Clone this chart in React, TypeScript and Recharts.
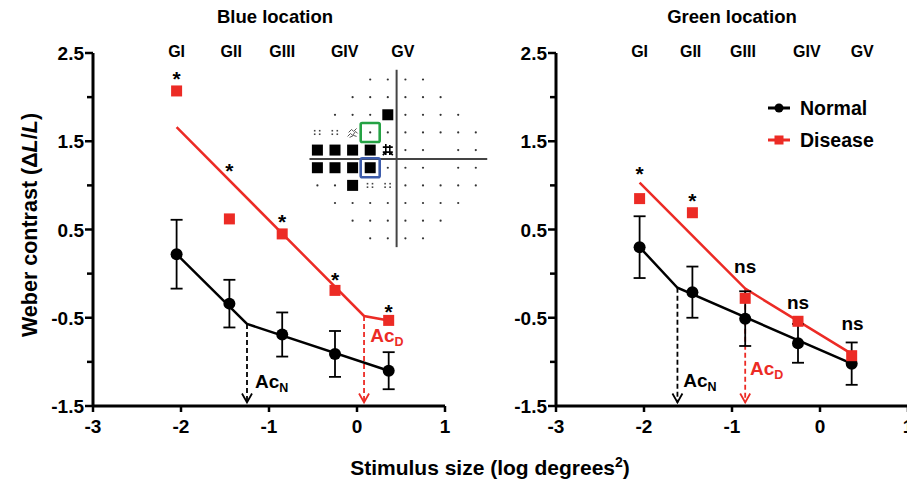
import React from 'react';
import {
  ComposedChart,
  Line,
  Scatter,
  XAxis,
  YAxis,
  ErrorBar,
  ReferenceLine,
  ReferenceDot,
} from 'recharts';

const FONT = "'Liberation Sans', Arial, Helvetica, sans-serif";
const RED = '#ec2b25';
const GREEN_BOX = '#25a244';
const BLUE_BOX = '#3d5cab';

// ---- axes / ticks ----
const X_TICKS = [-3, -2, -1, 0, 1];
const Y_TICKS = [-1.5, -1, -0.5, 0, 0.5, 1, 1.5, 2, 2.5];
const Y_LABELED = [-1.5, -0.5, 0.5, 1.5, 2.5];
const GROUP_LABELS = ['GI', 'GII', 'GIII', 'GIV', 'GV'];
const BLUE_GROUP_LABEL_X = [-2.05, -1.43, -0.85, -0.14, 0.52];
const GREEN_GROUP_LABEL_X = [-2.05, -1.47, -0.875, -0.15, 0.48];

// ---- stimulus sizes (log deg^2) ----
const STIM_X = [-2.05, -1.45, -0.85, -0.25, 0.36];

// ---- Blue location ----
const BLUE_NORMAL = [0.22, -0.34, -0.69, -0.91, -1.1];
const BLUE_NORMAL_ERR = [0.39, 0.27, 0.25, 0.26, 0.21];
const BLUE_DISEASE = [2.07, 0.62, 0.45, -0.19, -0.53];
const BLUE_NORMAL_FIT_X = [-2.05, -1.25, 0.36];
const BLUE_NORMAL_FIT_Y = [0.22, -0.57, -1.1];
const BLUE_DISEASE_FIT_X = [-2.05, 0.08, 0.36];
const BLUE_DISEASE_FIT_Y = [1.66, -0.48, -0.53];
const BLUE_SIG = ['*', '*', '*', '*', '*'];
const BLUE_SIG_X = [-2.05, -1.45, -0.85, -0.25, 0.36];
const BLUE_SIG_Y = [2.25, 1.21, 0.63, -0.03, -0.39];
const BLUE_AC_X = [-1.25, 0.08];
const BLUE_AC_Y = [-0.57, -0.48];
const BLUE_AC_LABEL_X = [-1.16, 0.15];
const BLUE_AC_LABEL_Y = [-1.295, -0.775];

// ---- Green location ----
const GREEN_NORMAL = [0.3, -0.21, -0.51, -0.79, -1.02];
const GREEN_NORMAL_ERR = [0.35, 0.29, 0.31, 0.22, 0.24];
const GREEN_DISEASE = [0.85, 0.69, -0.28, -0.54, -0.93];
const GREEN_NORMAL_FIT_X = [-2.05, -1.62, 0.36];
const GREEN_NORMAL_FIT_Y = [0.3, -0.16, -1.02];
const GREEN_DISEASE_FIT_X = [-2.05, -0.85, 0.36];
const GREEN_DISEASE_FIT_Y = [1.03, -0.17, -0.91];
const GREEN_SIG = ['*', '*', 'ns', 'ns', 'ns'];
const GREEN_SIG_X = [-2.05, -1.45, -0.85, -0.25, 0.37];
const GREEN_SIG_Y = [1.175, 0.87, 0.08, -0.33, -0.57];
const GREEN_AC_X = [-1.62, -0.85];
const GREEN_AC_Y = [-0.16, -0.17];
const GREEN_AC_LABEL_X = [-1.555, -0.795];
const GREEN_AC_LABEL_Y = [-1.285, -1.15];

const AC_SUBS = ['N', 'D'];
const AC_COLORS = ['#000', RED];
const ARROW_TIP_Y = -1.46;

// ---- legend ----
const LEGEND_NAMES = ['Normal', 'Disease'];
const LEGEND_COLORS = ['#000', RED];

// ---- visual field inset (blue panel) ----
const INSET_ROWS = [
  '   ....   ',
  '  ......  ',
  ' ...#.... ',
  '::~.......',
  '####*.. ..',
  '####... ..',
  '..#::.....',
  ' ........ ',
  '  ......  ',
  '   ....   ',
];
const INSET_BOXES = [
  { r: 3, c: 3, color: GREEN_BOX },
  { r: 5, c: 3, color: BLUE_BOX },
];
const INSET_X0 = -0.45;
const INSET_Y0 = 2.2;
const INSET_STEP = 0.2;

const zipXY = (xs: number[], ys: number[]) => xs.map((x, i) => ({ x, y: ys[i] }));

function YTick(props: any) {
  const { x, y, payload } = props;
  const v = payload.value as number;
  const major = Y_LABELED.includes(v);
  return (
    <g>
      <line x1={x - (major ? 8 : 6)} x2={x} y1={y} y2={y} stroke="#000" strokeWidth={2.5} />
      {major && (
        <text x={x - 9} y={y + 7} textAnchor="end" fontSize={19} fontWeight={700} fontFamily={FONT} fill="#000">
          {v.toFixed(1)}
        </text>
      )}
    </g>
  );
}

function XTick(props: any) {
  const { x, y, payload } = props;
  return (
    <g>
      <line x1={x} x2={x} y1={y} y2={y + 6} stroke="#000" strokeWidth={2.5} />
      <text x={x} y={y + 27} textAnchor="middle" fontSize={19} fontWeight={700} fontFamily={FONT} fill="#000">
        {String(payload.value)}
      </text>
    </g>
  );
}

function makeGroupTick(positions: number[]) {
  return (props: any) => {
    const { x, y, payload } = props;
    const idx = positions.indexOf(payload.value);
    return (
      <text x={x} y={y + 4} textAnchor="middle" fontSize={16} fontWeight={700} fontFamily={FONT} fill="#000">
        {GROUP_LABELS[idx]}
      </text>
    );
  };
}

const circleShape = (p: any) => <circle cx={p.cx} cy={p.cy} r={6} fill="#000" />;
const squareShape = (p: any) => <rect x={p.cx - 5.5} y={p.cy - 5.5} width={11} height={11} fill={RED} />;

function InsetCell(props: any) {
  const { cx, cy, code } = props;
  if (code === '#') return <rect x={cx - 5.5} y={cy - 5.5} width={11} height={11} fill="#000" />;
  if (code === '.') return <circle cx={cx} cy={cy} r={1.1} fill="#333" />;
  if (code === ':')
    return (
      <g fill="#444">
        <rect x={cx - 3.5} y={cy - 2.5} width={1.6} height={1.6} />
        <rect x={cx - 3.5} y={cy + 1} width={1.6} height={1.6} />
        <rect x={cx + 1.5} y={cy - 2.5} width={1.6} height={1.6} />
        <rect x={cx + 1.5} y={cy + 1} width={1.6} height={1.6} />
      </g>
    );
  if (code === '~')
    return (
      <path
        d={`M${cx - 5},${cy + 4} l3,-3 l2,2 l3,-4 l2,2 M${cx - 4},${cy} l3,-3 l2,2 l3,-3 M${cx - 3},${cy + 5} l4,-2 l3,1`}
        stroke="#555"
        strokeWidth={1}
        fill="none"
      />
    );
  if (code === '*')
    return (
      <path
        d={`M${cx - 5},${cy - 3} l10,0 M${cx - 5},${cy + 2} l10,0 M${cx - 2},${cy - 6} l0,11 M${cx + 2},${cy - 5} l0,10 M${cx - 5},${cy + 5} l4,-4 M${cx + 5},${cy + 5} l-4,-4`}
        stroke="#000"
        strokeWidth={1.6}
        fill="none"
      />
    );
  return <g />;
}

function AcLabel(props: any) {
  const { cx, cy, sub, color } = props;
  return (
    <text x={cx} y={cy} fontSize={19} fontWeight={700} fontFamily={FONT} fill={color}>
      Ac
      <tspan dy={4} fontSize={12.5}>
        {sub}
      </tspan>
    </text>
  );
}

function SigLabel(props: any) {
  const { cx, cy, text } = props;
  const star = text === '*';
  return (
    <text x={cx} y={cy + (star ? 11 : 6)} textAnchor="middle" fontSize={star ? 21 : 19} fontWeight={700} fontFamily={FONT} fill="#000">
      {text}
    </text>
  );
}

function Chevron(props: any) {
  const { cx, cy, color } = props;
  return <path d={`M${cx - 5},${cy - 9} L${cx},${cy} L${cx + 5},${cy - 9}`} stroke={color} strokeWidth={1.8} fill="none" />;
}

interface PanelProps {
  width: number;
  margin: { top: number; right: number; bottom: number; left: number };
  groupX: number[];
  normal: number[];
  normalErr: number[];
  disease: number[];
  normalFit: { x: number; y: number }[];
  diseaseFit: { x: number; y: number }[];
  sig: string[];
  sigX: number[];
  sigY: number[];
  acX: number[];
  acY: number[];
  acLabelX: number[];
  acLabelY: number[];
  inset: boolean;
}

function Panel(p: PanelProps) {
  const normalData = STIM_X.map((x, i) => ({ x, y: p.normal[i], err: p.normalErr[i] }));
  const diseaseData = STIM_X.map((x, i) => ({ x, y: p.disease[i] }));
  const insetCells: { x: number; y: number; code: string }[] = [];
  if (p.inset) {
    INSET_ROWS.forEach((row, r) => {
      row.split('').forEach((code, c) => {
        if (code !== ' ') insetCells.push({ x: INSET_X0 + INSET_STEP * c, y: INSET_Y0 - INSET_STEP * r, code });
      });
    });
  }
  return (
    <ComposedChart width={p.width} height={483} margin={p.margin}>
      <XAxis
        xAxisId="top"
        orientation="top"
        type="number"
        dataKey="x"
        domain={[-3, 1]}
        allowDataOverflow
        ticks={p.groupX}
        interval={0}
        axisLine={false}
        tickLine={false}
        tickSize={0}
        tickMargin={0}
        height={20}
        tick={makeGroupTick(p.groupX)}
      />
      <XAxis
        type="number"
        dataKey="x"
        domain={[-3, 1]}
        allowDataOverflow
        ticks={X_TICKS}
        interval={0}
        axisLine={{ stroke: '#000', strokeWidth: 3 }}
        tickLine={false}
        tickSize={0}
        tickMargin={0}
        height={30}
        tick={XTick}
      />
      <YAxis
        type="number"
        dataKey="y"
        domain={[-1.5, 2.5]}
        allowDataOverflow
        ticks={Y_TICKS}
        interval={0}
        axisLine={{ stroke: '#000', strokeWidth: 3 }}
        tickLine={false}
        tickSize={0}
        tickMargin={0}
        width={60}
        tick={YTick}
      />

      {p.inset && (
        <ReferenceLine
          segment={[
            { x: INSET_X0 + INSET_STEP * 4.5, y: 2.31 },
            { x: INSET_X0 + INSET_STEP * 4.5, y: 0.3 },
          ]}
          stroke="#444"
          strokeWidth={2}
          ifOverflow="visible"
        />
      )}
      {p.inset && (
        <ReferenceLine
          segment={[
            { x: -0.54, y: INSET_Y0 - INSET_STEP * 4.5 },
            { x: 1.48, y: INSET_Y0 - INSET_STEP * 4.5 },
          ]}
          stroke="#444"
          strokeWidth={2}
          ifOverflow="visible"
        />
      )}
      {insetCells.map((c, i) => (
        <ReferenceDot
          key={'cell' + i}
          x={c.x}
          y={c.y}
          r={1}
          ifOverflow="visible"
          shape={(sp: any) => <InsetCell cx={sp.cx} cy={sp.cy} code={c.code} />}
        />
      ))}
      {p.inset &&
        INSET_BOXES.map((b, i) => (
          <ReferenceDot
            key={'box' + i}
            x={INSET_X0 + INSET_STEP * b.c}
            y={INSET_Y0 - INSET_STEP * b.r}
            r={1}
            ifOverflow="visible"
            shape={(sp: any) => (
              <rect x={sp.cx - 9.5} y={sp.cy - 9.5} width={19} height={19} rx={1.5} fill="none" stroke={b.color} strokeWidth={2.6} />
            )}
          />
        ))}

      {p.acX.map((x, i) => (
        <ReferenceLine
          key={'acl' + i}
          segment={[
            { x, y: p.acY[i] },
            { x, y: ARROW_TIP_Y },
          ]}
          stroke={AC_COLORS[i]}
          strokeWidth={1.8}
          strokeDasharray="5 3"
          ifOverflow="visible"
        />
      ))}
      {p.acX.map((x, i) => (
        <ReferenceDot
          key={'ach' + i}
          x={x}
          y={ARROW_TIP_Y}
          r={1}
          ifOverflow="visible"
          shape={(sp: any) => <Chevron cx={sp.cx} cy={sp.cy} color={AC_COLORS[i]} />}
        />
      ))}
      {p.acLabelX.map((x, i) => (
        <ReferenceDot
          key={'act' + i}
          x={x}
          y={p.acLabelY[i]}
          r={1}
          ifOverflow="visible"
          shape={(sp: any) => <AcLabel cx={sp.cx} cy={sp.cy} sub={AC_SUBS[i]} color={AC_COLORS[i]} />}
        />
      ))}

      <Line data={p.normalFit} dataKey="y" stroke="#000" strokeWidth={2.5} dot={false} isAnimationActive={false} />
      <Line data={p.diseaseFit} dataKey="y" stroke={RED} strokeWidth={2.5} dot={false} isAnimationActive={false} />
      <Scatter data={normalData} dataKey="y" shape={circleShape} isAnimationActive={false}>
        <ErrorBar dataKey="err" direction="y" width={6} stroke="#000" strokeWidth={1.8} isAnimationActive={false} />
      </Scatter>
      <Scatter data={diseaseData} dataKey="y" shape={squareShape} isAnimationActive={false} />

      {p.sig.map((s, i) => (
        <ReferenceDot
          key={'sig' + i}
          x={p.sigX[i]}
          y={p.sigY[i]}
          r={1}
          ifOverflow="visible"
          shape={(sp: any) => <SigLabel cx={sp.cx} cy={sp.cy} text={s} />}
        />
      ))}
    </ComposedChart>
  );
}

export default function App() {
  return (
    <div style={{ position: 'absolute', left: 0, top: 0, width: 907, height: 483, overflow: 'hidden', background: '#fff' }}>
      <div style={{ position: 'absolute', left: 0, top: 0 }}>
        <Panel
          width={500}
          margin={{ top: 33, right: 55, bottom: 47, left: 33 }}
          groupX={BLUE_GROUP_LABEL_X}
          normal={BLUE_NORMAL}
          normalErr={BLUE_NORMAL_ERR}
          disease={BLUE_DISEASE}
          normalFit={zipXY(BLUE_NORMAL_FIT_X, BLUE_NORMAL_FIT_Y)}
          diseaseFit={zipXY(BLUE_DISEASE_FIT_X, BLUE_DISEASE_FIT_Y)}
          sig={BLUE_SIG}
          sigX={BLUE_SIG_X}
          sigY={BLUE_SIG_Y}
          acX={BLUE_AC_X}
          acY={BLUE_AC_Y}
          acLabelX={BLUE_AC_LABEL_X}
          acLabelY={BLUE_AC_LABEL_Y}
          inset
        />
      </div>
      <div style={{ position: 'absolute', left: 460, top: 0, width: 447, height: 483, overflow: 'hidden' }}>
        <Panel
          width={460}
          margin={{ top: 33, right: 12, bottom: 47, left: 36 }}
          groupX={GREEN_GROUP_LABEL_X}
          normal={GREEN_NORMAL}
          normalErr={GREEN_NORMAL_ERR}
          disease={GREEN_DISEASE}
          normalFit={zipXY(GREEN_NORMAL_FIT_X, GREEN_NORMAL_FIT_Y)}
          diseaseFit={zipXY(GREEN_DISEASE_FIT_X, GREEN_DISEASE_FIT_Y)}
          sig={GREEN_SIG}
          sigX={GREEN_SIG_X}
          sigY={GREEN_SIG_Y}
          acX={GREEN_AC_X}
          acY={GREEN_AC_Y}
          acLabelX={GREEN_AC_LABEL_X}
          acLabelY={GREEN_AC_LABEL_Y}
          inset={false}
        />
      </div>
      <svg
        width={907}
        height={483}
        style={{ position: 'absolute', left: 0, top: 0, pointerEvents: 'none' }}
        fontFamily={FONT}
        fontWeight={700}
      >
        <text x={275} y={23} textAnchor="middle" fontSize={18.5}>
          Blue location
        </text>
        <text x={732} y={23} textAnchor="middle" fontSize={18.5}>
          Green location
        </text>
        <text transform="translate(37,225) rotate(-90)" textAnchor="middle" fontSize={21.5}>
          Weber contrast (Δ<tspan fontStyle="italic">L</tspan>/<tspan fontStyle="italic">L</tspan>)
        </text>
        <text x={490} y={475} textAnchor="middle" fontSize={21}>
          Stimulus size (log degrees
          <tspan dy={-8} fontSize={14}>
            2
          </tspan>
          <tspan dy={8}>)</tspan>
        </text>
        {LEGEND_NAMES.map((name, i) => {
          const y = 108 + i * 32;
          return (
            <g key={name}>
              <line x1={768} x2={790} y1={y} y2={y} stroke={LEGEND_COLORS[i]} strokeWidth={3} />
              {i === 0 ? (
                <circle cx={779} cy={y} r={4.5} fill={LEGEND_COLORS[i]} />
              ) : (
                <rect x={774.5} y={y - 4.5} width={9} height={9} fill={LEGEND_COLORS[i]} />
              )}
              <text x={800} y={y + 7} fontSize={19.5} fill="#000">
                {name}
              </text>
            </g>
          );
        })}
      </svg>
    </div>
  );
}
